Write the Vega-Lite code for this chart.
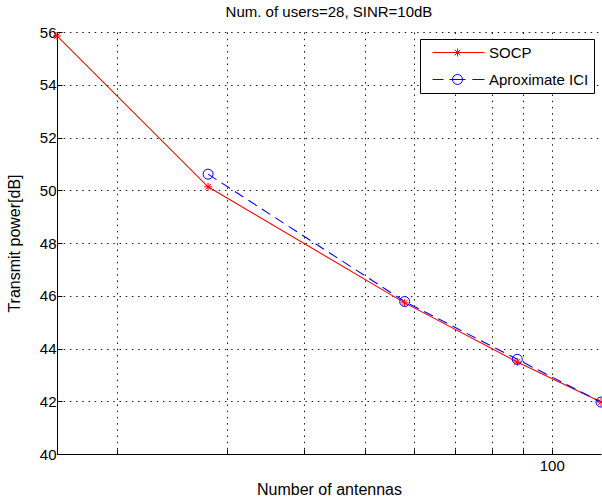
{
  "$schema": "https://vega.github.io/schema/vega-lite/v6.json",
  "width": 544,
  "height": 422,
  "autosize": {"type": "none"},
  "padding": {"left": 57, "top": 32, "right": 1, "bottom": 50},
  "background": "white",
  "title": {
    "text": "Num. of users=28, SINR=10dB",
    "font": "Liberation Sans",
    "fontSize": 15,
    "fontWeight": "normal",
    "color": "black",
    "anchor": "middle",
    "baseline": "alphabetic",
    "offset": 7,
    "dy": 14
  },
  "config": {
    "view": {"stroke": null},
    "axis": {
      "labelFont": "Liberation Sans",
      "labelFontSize": 15,
      "labelColor": "black",
      "titleFont": "Liberation Sans",
      "titleFontSize": 16,
      "titleFontWeight": "normal",
      "titleColor": "black",
      "domainColor": "black",
      "domainWidth": 1,
      "tickColor": "black",
      "tickWidth": 1,
      "tickSize": -5,
      "grid": true,
      "gridColor": "black",
      "gridOpacity": 0.9,
      "gridWidth": 1,
      "gridDash": [1.5, 4.7]
    }
  },
  "data": {
    "values": [
      {"antennas": 16, "power": 55.85, "series": "SOCP"},
      {"antennas": 28, "power": 50.13, "series": "SOCP"},
      {"antennas": 58, "power": 45.73, "series": "SOCP"},
      {"antennas": 88, "power": 43.49, "series": "SOCP"},
      {"antennas": 120, "power": 41.97, "series": "SOCP"},
      {"antennas": 28, "power": 50.61, "series": "Aproximate ICI"},
      {"antennas": 58, "power": 45.78, "series": "Aproximate ICI"},
      {"antennas": 88, "power": 43.59, "series": "Aproximate ICI"},
      {"antennas": 120, "power": 41.97, "series": "Aproximate ICI"}
    ]
  },
  "layer": [
    {
      "mark": {"type": "line", "strokeWidth": 1.1},
      "encoding": {
        "x": {
          "field": "antennas", "type": "quantitative",
          "scale": {"type": "log", "domain": [16, 120], "nice": false, "zero": false},
          "axis": {
            "title": "Number of antennas",
            "values": [20, 30, 40, 50, 60, 70, 80, 90, 100],
            "labelExpr": "datum.value == 100 ? '100' : ''",
            "labelPadding": 9,
            "titlePadding": 8
          }
        },
        "y": {
          "field": "power", "type": "quantitative",
          "scale": {"domain": [40, 56], "nice": false, "zero": false},
          "axis": {
            "title": "Transmit power[dB]",
            "values": [40, 42, 44, 46, 48, 50, 52, 54, 56],
            "labelPadding": 6,
            "titlePadding": 17
          }
        },
        "color": {
          "field": "series", "type": "nominal",
          "scale": {"domain": ["SOCP", "Aproximate ICI"], "range": ["#ff0000", "#0000ff"]},
          "legend": null
        },
        "strokeDash": {
          "field": "series", "type": "nominal",
          "scale": {"domain": ["SOCP", "Aproximate ICI"], "range": [[1000, 0], [10, 6]]},
          "legend": null
        }
      }
    },
    {
      "mark": {"type": "point", "filled": false, "strokeWidth": 1, "size": 100, "opacity": 1},
      "encoding": {
        "x": {"field": "antennas", "type": "quantitative"},
        "y": {"field": "power", "type": "quantitative"},
        "color": {
          "field": "series", "type": "nominal",
          "scale": {"domain": ["SOCP", "Aproximate ICI"], "range": ["#ff0000", "#0000ff"]},
          "legend": null
        },
        "shape": {
          "field": "series", "type": "nominal",
          "scale": {
            "domain": ["SOCP", "Aproximate ICI"],
            "range": ["M0,-0.8L0,0.8M-0.8,0L0.8,0M-0.56,-0.56L0.56,0.56M-0.56,0.56L0.56,-0.56", "circle"]
          },
          "legend": null
        }
      }
    },
    {
      "mark": {"type": "point", "filled": false, "strokeWidth": 1, "size": 256, "opacity": 0},
      "encoding": {
        "x": {"field": "antennas", "type": "quantitative"},
        "y": {"field": "power", "type": "quantitative"},
        "color": {
          "field": "series", "type": "nominal",
          "scale": {"domain": ["SOCP", "Aproximate ICI"], "range": ["#ff0000", "#0000ff"]},
          "legend": {
            "title": null,
            "orient": "top-right",
            "offset": 7,
            "strokeColor": "black",
            "fillColor": "white",
            "padding": 5,
            "symbolSize": 256,
            "symbolOpacity": 1,
            "symbolStrokeWidth": 1,
            "labelFont": "Liberation Sans",
            "labelFontSize": 15,
            "labelColor": "black",
            "labelOffset": 47,
            "labelExpr": "datum.label + '\u00a0\u00a0'",
            "rowPadding": 10,
            "cornerRadius": 0
          }
        },
        "shape": {
          "field": "series", "type": "nominal",
          "scale": {
            "domain": ["SOCP", "Aproximate ICI"],
            "range": [
              "M-0.125,0L6.375,0M3,-0.5L3,0.5M2.5,0L3.5,0M2.65,-0.35L3.35,0.35M2.65,0.35L3.35,-0.35",
              "M-0.125,0L1.25,0M2,0L4,0M4.85,0L6.375,0M3.625,0A0.625,0.625 0 1,1 2.375,0A0.625,0.625 0 1,1 3.625,0"
            ]
          },
          "legend": {
            "title": null,
            "orient": "top-right",
            "offset": 7,
            "strokeColor": "black",
            "fillColor": "white",
            "padding": 5,
            "symbolSize": 256,
            "symbolOpacity": 1,
            "symbolStrokeWidth": 1,
            "labelFont": "Liberation Sans",
            "labelFontSize": 15,
            "labelColor": "black",
            "labelOffset": 47,
            "labelExpr": "datum.label + '\u00a0\u00a0'",
            "rowPadding": 10,
            "cornerRadius": 0
          }
        }
      }
    }
  ],
  "resolve": {"scale": {"shape": "independent", "color": "independent", "strokeDash": "independent"}}
}
